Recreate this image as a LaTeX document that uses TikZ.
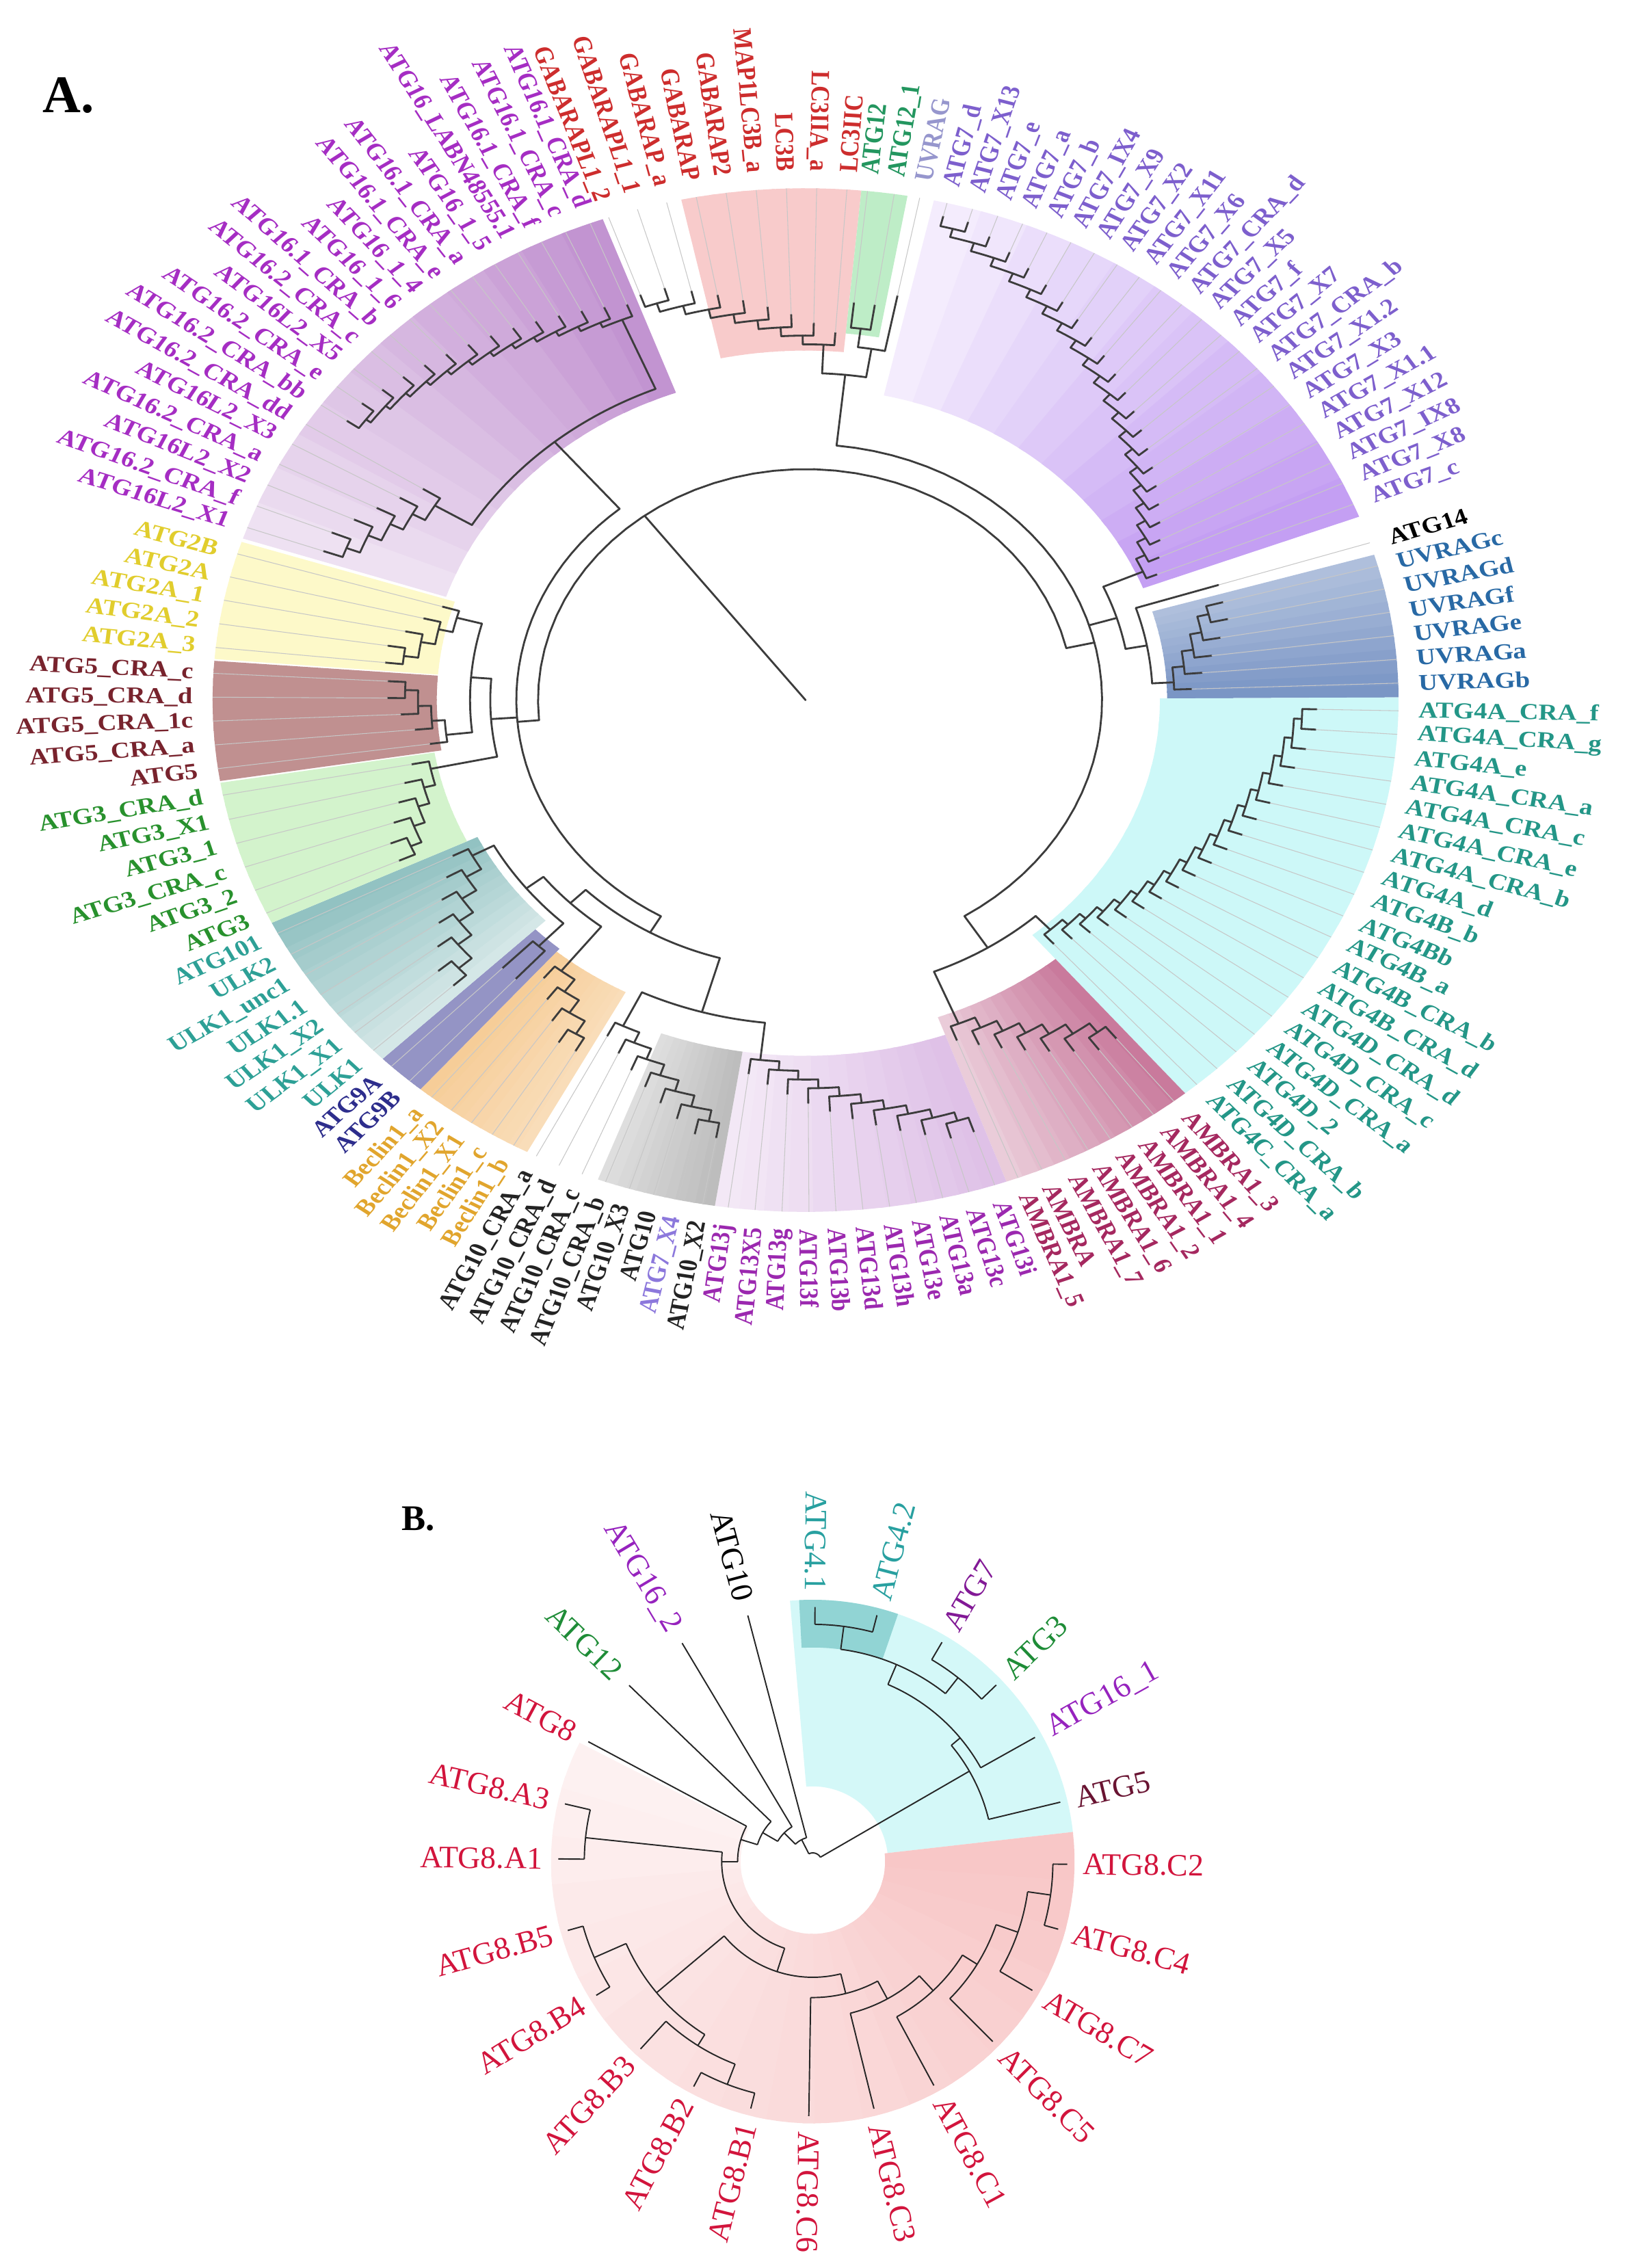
\documentclass[tikz,border=0pt]{standalone}
\usepackage{fontspec}
\setmainfont{Liberation Serif}
% label colours, panel A
\definecolor{cA16}{RGB}{165,45,195}
\definecolor{cRed}{RGB}{205,45,45}
\definecolor{cG12}{RGB}{35,150,95}
\definecolor{cUVl}{RGB}{150,150,205}
\definecolor{cA7}{RGB}{125,95,205}
\definecolor{cA7l}{RGB}{140,120,220}
\definecolor{cUV}{RGB}{40,105,165}
\definecolor{cA4}{RGB}{35,150,135}
\definecolor{cAMB}{RGB}{165,40,95}
\definecolor{cA13}{RGB}{155,40,175}
\definecolor{cA10}{RGB}{35,35,35}
\definecolor{cBec}{RGB}{225,165,45}
\definecolor{cA9}{RGB}{45,45,140}
\definecolor{cULK}{RGB}{45,160,150}
\definecolor{cA3}{RGB}{40,145,45}
\definecolor{cA5}{RGB}{120,35,45}
\definecolor{cA2}{RGB}{225,205,45}
% fan colours, panel A
\definecolor{fA16}{RGB}{150,70,175}
\definecolor{fRed}{RGB}{240,140,140}
\definecolor{fG12}{RGB}{110,215,130}
\definecolor{fA7}{RGB}{160,100,235}
\definecolor{fUV}{RGB}{60,100,170}
\definecolor{fA4}{RGB}{90,230,230}
\definecolor{fAMB}{RGB}{175,60,110}
\definecolor{fA13}{RGB}{180,110,200}
\definecolor{fA10}{RGB}{130,130,130}
\definecolor{fBec}{RGB}{240,170,80}
\definecolor{fA9}{RGB}{60,60,150}
\definecolor{fULK}{RGB}{50,140,140}
\definecolor{fA3}{RGB}{130,220,110}
\definecolor{fA5}{RGB}{150,70,70}
\definecolor{fA2}{RGB}{250,240,120}
% panel B colours
\definecolor{cB4}{RGB}{40,160,160}
\definecolor{cB7}{RGB}{130,25,150}
\definecolor{cBg}{RGB}{30,140,55}
\definecolor{cB16}{RGB}{150,35,190}
\definecolor{cB5}{RGB}{105,20,50}
\definecolor{cB8}{RGB}{210,20,60}
\definecolor{cyB}{RGB}{212,248,248}
\definecolor{tlB}{RGB}{145,212,212}
\definecolor{pkB}{RGB}{240,140,140}
\definecolor{brc}{RGB}{60,60,60}

\tikzset{
  brA/.style={draw=brc, line width=0.8pt, line cap=round, line join=round},
  extA/.style={draw=black!22, line width=0.3pt},
  brB/.style={draw=black!85, line width=0.55pt, line join=round},
  lblA/.style={font=\fontsize{11}{13}\selectfont\bfseries, inner sep=0pt, outer sep=0pt},
  lblB/.style={font=\fontsize{13}{15}\selectfont, inner sep=0pt, outer sep=0pt},
}
\def\RLA{424}
\def\RFA{410}
\def\RLB{187}
\newcount\labcnt

\newcommand\LabA[3]{%
  \pgfmathsetmacro\myang{#1}%
  \pgfmathtruncatemacro\myright{(\myang>-92 && \myang<88) ? 1 : 0}%
  \global\advance\labcnt by 1
  \ifnum\myright=1
    \node[lblA, text=#2, anchor=west, rotate=\myang] (LA\the\labcnt) at (\myang:\RLA) {#3};%
  \else
    \pgfmathsetmacro\myrot{\myang+180}%
    \node[lblA, text=#2, anchor=east, rotate=\myrot] (LA\the\labcnt) at (\myang:\RLA) {#3};%
  \fi}

\newcommand\LabB[3]{%
  \pgfmathsetmacro\myang{#1}%
  \pgfmathtruncatemacro\myright{(\myang>-92 && \myang<88) ? 1 : 0}%
  \global\advance\labcnt by 1
  \ifnum\myright=1
    \node[lblB, text=#2, anchor=west, rotate=\myang] (LB\the\labcnt) at (\myang:\RLB) {#3};%
  \else
    \pgfmathsetmacro\myrot{\myang+180}%
    \node[lblB, text=#2, anchor=east, rotate=\myrot] (LB\the\labcnt) at (\myang:\RLB) {#3};%
  \fi}

\newcommand\GroupA[4]{%
  \def\mylist{#4}%
  \foreach \lab [count=\kk] in \mylist {\xdef\myn{\kk}}%
  \foreach \lab [count=\kk] in \mylist {%
    \pgfmathsetmacro\mya{(#1)+(\kk-1)*((#2)-(#1))/(\myn-1)}%
    \LabA{\mya}{#3}{\lab}}}

\newcommand\FanA[7]{%
  \foreach \q in {0,...,11}{%
    \pgfmathsetmacro\fa{(#1)+\q*((#2)-(#1))/12}%
    \pgfmathsetmacro\fb{(#1)+min(\q+1.25,12)*((#2)-(#1))/12}%
    \pgfmathtruncatemacro\fp{(#6)+(\q+0.5)*((#7)-(#6))/12}%
    \fill[fill=#5!\fp!white] plot[domain=\fa:\fb,samples=5] (\x:#3) -- plot[domain=\fb:\fa,samples=5] (\x:#4) -- cycle;}}

\newcommand\Ladder[6]{%
  \pgfmathsetmacro\lst{((#2)-(#1))/((#3)-1)}%
  \pgfmathtruncatemacro\lnm{(#3)-1}%
  \foreach \jj in {1,...,\lnm}{%
    \pgfmathsetmacro\laj{(#1)+(\jj-1)*\lst}%
    \pgfmathsetmacro\lrj{(#4)+(\jj-1)*(#5)}%
    \pgfmathsetmacro\lrt{\lrj+(#6)}%
    \ifnum\jj<\lnm
      \pgfmathsetmacro\lnx{(#1)+(\jj+0.5)*\lst}%
      \pgfmathsetmacro\lrn{\lrj+(#5)}%
      \draw[brA] plot[domain=\laj:\lnx,samples=5] (\x:\lrj);%
      \draw[brA] (\lnx:\lrj) -- (\lnx:\lrn);%
    \else
      \pgfmathsetmacro\lnx{(#1)+\jj*\lst}%
      \draw[brA] plot[domain=\laj:\lnx,samples=5] (\x:\lrj);%
      \draw[brA] (\lnx:\lrj) -- (\lnx:\lrt);%
      \draw[extA] (\lnx:\lrt) -- (\lnx:\RFA);%
    \fi
    \draw[brA] (\laj:\lrj) -- (\laj:\lrt);%
    \draw[extA] (\laj:\lrt) -- (\laj:\RFA);%
  }}

\newcommand\Arc[4][brA]{\draw[#1] plot[domain=#3:#4,samples=40] (\x:#2);}
\newcommand\Rad[4][brA]{\draw[#1] (#2:#3) -- (#2:#4);}

\begin{document}
\begin{tikzpicture}[x=0.21155mm, y=0.21155mm]
\useasboundingbox (0,0) rectangle (1126,-1568);
\fill[white] (0,0) rectangle (1126,-1568);

\node[font=\fontsize{22}{24}\selectfont\bfseries] (titleA) at (47.5,-66) {A.};
\node[font=\fontsize{15}{17}\selectfont\bfseries] (titleB) at (289,-1050) {B.};

%================ PANEL A =================
\begin{scope}[shift={(557,-484)}, yscale=0.863, transform shape]
% coloured ranges
\FanA{161.6}{110}{262}{\RFA}{fA16}{15}{60}
\FanA{102.1}{84.6}{280}{\RFA}{fRed}{45}{45}
\FanA{84.6}{80.1}{295}{\RFA}{fG12}{45}{45}
\FanA{77.5}{21}{250}{\RFA}{fA7}{10}{65}
\FanA{16.5}{0.3}{250}{\RFA}{fUV}{40}{70}
\FanA{0.3}{-50.2}{245}{\RFA}{fA4}{30}{30}
\FanA{-50.2}{-70.2}{270}{\RFA}{fAMB}{70}{25}
\FanA{-70.2}{-98.8}{285}{\RFA}{fA13}{45}{15}
\FanA{-98.8}{-110.5}{285}{\RFA}{fA10}{55}{25}
\FanA{-118}{-130.5}{265}{\RFA}{fBec}{40}{60}
\FanA{-130.5}{-135.5}{262}{\RFA}{fA9}{55}{55}
\FanA{-135.5}{-154.2}{252}{\RFA}{fULK}{20}{55}
\FanA{-154.2}{-170.7}{260}{\RFA}{fA3}{35}{35}
\FanA{-170.9}{-184.4}{255}{\RFA}{fA5}{60}{60}
\FanA{-184.6}{-198}{255}{\RFA}{fA2}{40}{40}

% clades
\Ladder{147.4}{160.3}{6}{300}{10}{14}
\Ladder{111.3}{144.8}{14}{330}{4}{10}
\Ladder{86}{109.4}{9}{285}{7}{10}
\Ladder{84}{81.4}{2}{300}{0}{20}
\Ladder{22.5}{76.2}{22}{255}{6.8}{8}
\Ladder{1.9}{15.2}{6}{255}{8}{12}
\Ladder{-48.7}{-1.2}{19}{250}{5.5}{10}
\Ladder{-69}{-51.6}{8}{280}{9}{12}
\Ladder{-97.5}{-71.4}{11}{290}{7}{12}
\Ladder{-117}{-100}{8}{290}{9}{12}
\Ladder{-129.1}{-119.5}{5}{275}{12}{12}
\Ladder{-131.9}{-134.3}{2}{270}{0}{30}
\Ladder{-152.9}{-136.8}{7}{262}{12}{12}
\Ladder{-169.3}{-155.4}{6}{265}{8}{12}
\Ladder{-172.3}{-183}{5}{250}{9}{12}
\Ladder{-196.6}{-185.9}{5}{250}{10}{12}

% backbone
\Arc{270}{148.7}{112.6} \Rad{148.7}{270}{300} \Rad{112.6}{270}{330} \Rad{130}{200}{270}
\Arc{285}{82.7}{78.9} \Rad{82.7}{285}{300} \Rad{78.9}{285}{330} \draw[extA] (78.9:330) -- (78.9:\RFA);
\Arc{262}{87.5}{80.8} \Rad{87.5}{262}{285} \Rad{80.8}{262}{285} \Rad{84}{205}{262}
\Arc{240}{17.9}{3.2} \Rad{17.9}{240}{300} \draw[extA] (17.9:300) -- (17.9:\RFA);
\Rad{3.2}{240}{255} \Rad{10.5}{225}{240}
\Arc{225}{23.8}{10.5} \Rad{23.8}{225}{255} \Rad{17}{205}{225}
\Arc{235}{-47.4}{-67.8} \Rad{-47.4}{235}{250} \Rad{-67.8}{235}{280} \Rad{-57.6}{205}{235}
\Arc{205}{84}{-57.6} \Rad{13}{185}{205}
\Arc{232}{-173.6}{-195.3} \Rad{-173.6}{232}{250} \Rad{-195.3}{232}{250} \Rad{-184.5}{218}{232}
\Arc{218}{-168}{-184.5} \Rad{-168}{218}{265} \Rad{-176}{200}{218}
\Arc{245}{-151.6}{-133.1} \Rad{-151.6}{245}{262} \Rad{-133.1}{245}{270} \Rad{-142}{230}{245}
\Arc{230}{-142}{-127.9} \Rad{-127.9}{230}{275} \Rad{-135}{215}{230}
\Arc{260}{-115.8}{-96.2} \Rad{-115.8}{260}{290} \Rad{-96.2}{260}{290} \Rad{-106}{215}{260}
\Arc{215}{-135}{-106} \Rad{-120}{200}{215}
\Arc{200}{-230}{-120} \Rad{-175}{185}{200}
\Arc{185}{13}{185}
\Rad{127}{0}{185}

% labels
\GroupA{160.3}{111.3}{cA16}{ATG16L2\_X1,ATG16.2\_CRA\_f,ATG16L2\_X2,ATG16.2\_CRA\_a,ATG16L2\_X3,ATG16.2\_CRA\_dd,ATG16.2\_CRA\_bb,ATG16.2\_CRA\_e,ATG16L2\_X5,ATG16.2\_CRA\_c,ATG16.1\_CRA\_b,ATG16\_1\_6,ATG16\_1\_4,ATG16.1\_CRA\_e,ATG16.1\_CRA\_a,ATG16\_1\_5,ATG16\_LABN48555.1,ATG16.1\_CRA\_f,ATG16.1\_CRA\_c,ATG16.1\_CRA\_d}
\GroupA{109.4}{86}{cRed}{GABARAPL1\_2,GABARAPL1\_1,GABARAP\_a,GABARAP,GABARAP2,MAP1LC3B\_a,LC3B,LC3IIA\_a,LC3IIC}
\GroupA{84}{81.4}{cG12}{ATG12,ATG12\_1}
\LabA{78.9}{cUVl}{UVRAG}
\GroupA{76.2}{22.5}{cA7}{ATG7\_d,ATG7\_X13,ATG7\_e,ATG7\_a,ATG7\_b,ATG7\_IX4,ATG7\_X9,ATG7\_X2,ATG7\_X11,ATG7\_X6,ATG7\_CRA\_d,ATG7\_X5,ATG7\_f,ATG7\_X7,ATG7\_CRA\_b,ATG7\_X1.2,ATG7\_X3,ATG7\_X1.1,ATG7\_X12,ATG7\_IX8,ATG7\_X8,ATG7\_c}
\LabA{17.9}{black}{ATG14}
\GroupA{15.2}{1.9}{cUV}{UVRAGc,UVRAGd,UVRAGf,UVRAGe,UVRAGa,UVRAGb}
\GroupA{-1.2}{-48.7}{cA4}{ATG4A\_CRA\_f,ATG4A\_CRA\_g,ATG4A\_e,ATG4A\_CRA\_a,ATG4A\_CRA\_c,ATG4A\_CRA\_e,ATG4A\_CRA\_b,ATG4A\_d,ATG4B\_b,ATG4Bb,ATG4B\_a,ATG4B\_CRA\_b,ATG4B\_CRA\_d,ATG4D\_CRA\_d,ATG4D\_CRA\_c,ATG4D\_CRA\_a,ATG4D\_2,ATG4D\_CRA\_b,ATG4C\_CRA\_a}
\GroupA{-51.6}{-69}{cAMB}{AMBRA1\_3,AMBRA1\_4,AMBRA1\_1,AMBRA1\_2,AMBRA1\_6,AMBRA1\_7,AMBRA,AMBRA1\_5}
\GroupA{-71.4}{-97.5}{cA13}{ATG13i,ATG13c,ATG13a,ATG13e,ATG13h,ATG13d,ATG13b,ATG13f,ATG13g,ATG13X5,ATG13j}
\LabA{-100}{cA10}{ATG10\_X2}
\LabA{-102.43}{cA7l}{ATG7\_X4}
\LabA{-104.86}{cA10}{ATG10}
\LabA{-107.29}{cA10}{ATG10\_X3}
\LabA{-109.71}{cA10}{ATG10\_CRA\_b}
\LabA{-112.14}{cA10}{ATG10\_CRA\_c}
\LabA{-114.57}{cA10}{ATG10\_CRA\_d}
\LabA{-117}{cA10}{ATG10\_CRA\_a}
\GroupA{-119.5}{-129.1}{cBec}{Beclin1\_b,Beclin1\_c,Beclin1\_X1,Beclin1\_X2,Beclin1\_a}
\GroupA{-131.9}{-134.3}{cA9}{ATG9B,ATG9A}
\GroupA{-136.8}{-152.9}{cULK}{ULK1,ULK1\_X1,ULK1\_X2,ULK1.1,ULK1\_unc1,ULK2,ATG101}
\GroupA{-155.4}{-169.3}{cA3}{ATG3,ATG3\_2,ATG3\_CRA\_c,ATG3\_1,ATG3\_X1,ATG3\_CRA\_d}
\GroupA{-172.3}{-183}{cA5}{ATG5,ATG5\_CRA\_a,ATG5\_CRA\_1c,ATG5\_CRA\_d,ATG5\_CRA\_c}
\GroupA{-185.9}{-196.6}{cA2}{ATG2A\_3,ATG2A\_2,ATG2A\_1,ATG2A,ATG2B}
\end{scope}

%================ PANEL B =================
\begin{scope}[shift={(562,-1287)}]
\fill[cyB] plot[domain=95:6.5,samples=60] (\x:181) -- plot[domain=6.5:95,samples=30] (\x:52) -- cycle;
\fill[tlB] plot[domain=93:71,samples=20] (\x:181) -- plot[domain=71:93,samples=10] (\x:148) -- cycle;
\foreach \q in {0,...,19}{%
  \pgfmathsetmacro\fa{6.5-\q*213.5/20}%
  \pgfmathsetmacro\fb{6.5-min(\q+1.25,20)*213.5/20}%
  \pgfmathtruncatemacro\fp{50-(\q+0.5)*38/20}%
  \fill[fill=pkB!\fp!white] plot[domain=\fa:\fb,samples=6] (\x:50) -- plot[domain=\fb:\fa,samples=6] (\x:181) -- cycle;}

% blue clade
\Rad[brB]{89.5}{164}{176} \Rad[brB]{75.4}{164}{176} \Arc[brB]{164}{89.5}{75.4} \Rad[brB]{82.5}{148}{164}
\Rad[brB]{59.5}{162}{176} \Rad[brB]{43.9}{162}{176} \Arc[brB]{162}{59.5}{43.9} \Rad[brB]{51.7}{148}{162}
\Arc[brB]{148}{82.5}{51.7} \Rad[brB]{67}{133}{148}
\Arc[brB]{133}{67}{29.2} \Rad[brB]{29.2}{133}{176} \Rad[brB]{40}{125}{133}
\Arc[brB]{125}{40}{13.5} \Rad[brB]{13.5}{125}{176} \Rad[brB]{30}{6}{125}
% root and left ladder
\Arc[brB]{6}{30}{117} \Rad[brB]{117}{6}{17}
\Arc[brB]{17}{104.8}{135} \Rad[brB]{104.8}{17}{176} \Rad[brB]{135}{17}{28}
\Arc[brB]{28}{120.9}{150} \Rad[brB]{120.9}{28}{176} \Rad[brB]{150}{28}{40}
\Arc[brB]{40}{136.2}{163} \Rad[brB]{136.2}{40}{176} \Rad[brB]{163}{40}{52}
\Arc[brB]{52}{151.9}{180} \Rad[brB]{151.9}{52}{176} \Rad[brB]{180}{52}{63}
\Arc[brB]{63}{174}{252} \Rad[brB]{174}{63}{158}
\Arc[brB]{158}{166.9}{179.4} \Rad[brB]{166.9}{158}{176} \Rad[brB]{179.4}{158}{176}
\Rad[brB]{252}{63}{80} \Arc[brB]{80}{220}{284}
% B clade
\Rad[brB]{220}{80}{141} \Arc[brB]{141}{203.7}{238} \Rad[brB]{203.7}{141}{165}
\Arc[brB]{165}{195.7}{211.7} \Rad[brB]{195.7}{165}{176} \Rad[brB]{211.7}{165}{176}
\Rad[brB]{238}{141}{150} \Arc[brB]{150}{227.4}{249} \Rad[brB]{227.4}{150}{176} \Rad[brB]{249}{150}{165}
\Arc[brB]{165}{242.1}{255.9} \Rad[brB]{242.1}{165}{176} \Rad[brB]{255.9}{165}{176}
% C clade
\Rad[brB]{284}{80}{94} \Arc[brB]{94}{269.1}{298.5} \Rad[brB]{269.1}{94}{176}
\Rad[brB]{298.5}{94}{108} \Arc[brB]{108}{283.9}{313} \Rad[brB]{283.9}{108}{176}
\Rad[brB]{313}{108}{122} \Arc[brB]{122}{298.4}{328} \Rad[brB]{298.4}{122}{176}
\Rad[brB]{328}{122}{134} \Arc[brB]{134}{315}{341} \Rad[brB]{315}{134}{176}
\Rad[brB]{341}{134}{150} \Arc[brB]{150}{329.6}{352} \Rad[brB]{329.6}{150}{176}
\Rad[brB]{352}{150}{166} \Arc[brB]{166}{344.6}{359.4} \Rad[brB]{344.6}{166}{176} \Rad[brB]{359.4}{166}{176}

\foreach \ba/\bc/\bl in {89.5/cB4/ATG4.1, 75.4/cB4/ATG4.2, 59.5/cB7/ATG7, 43.9/cBg/ATG3, 29.2/cB16/ATG16\_1, 13.5/cB5/ATG5, -0.6/cB8/ATG8.C2, -15.4/cB8/ATG8.C4, -30.4/cB8/ATG8.C7, -45/cB8/ATG8.C5, -61.6/cB8/ATG8.C1, -76.1/cB8/ATG8.C3, -90.9/cB8/ATG8.C6, -104.1/cB8/ATG8.B1, -117.9/cB8/ATG8.B2, -132.6/cB8/ATG8.B3, -148.3/cB8/ATG8.B4, -164.3/cB8/ATG8.B5, 179.4/cB8/ATG8.A1, 166.9/cB8/ATG8.A3, 151.9/cB8/ATG8, 136.2/cBg/ATG12, 120.9/cB16/ATG16\_2, 104.8/black/ATG10}
  {\LabB{\ba}{\bc}{\bl}}
\end{scope}
\end{tikzpicture}
\end{document}
